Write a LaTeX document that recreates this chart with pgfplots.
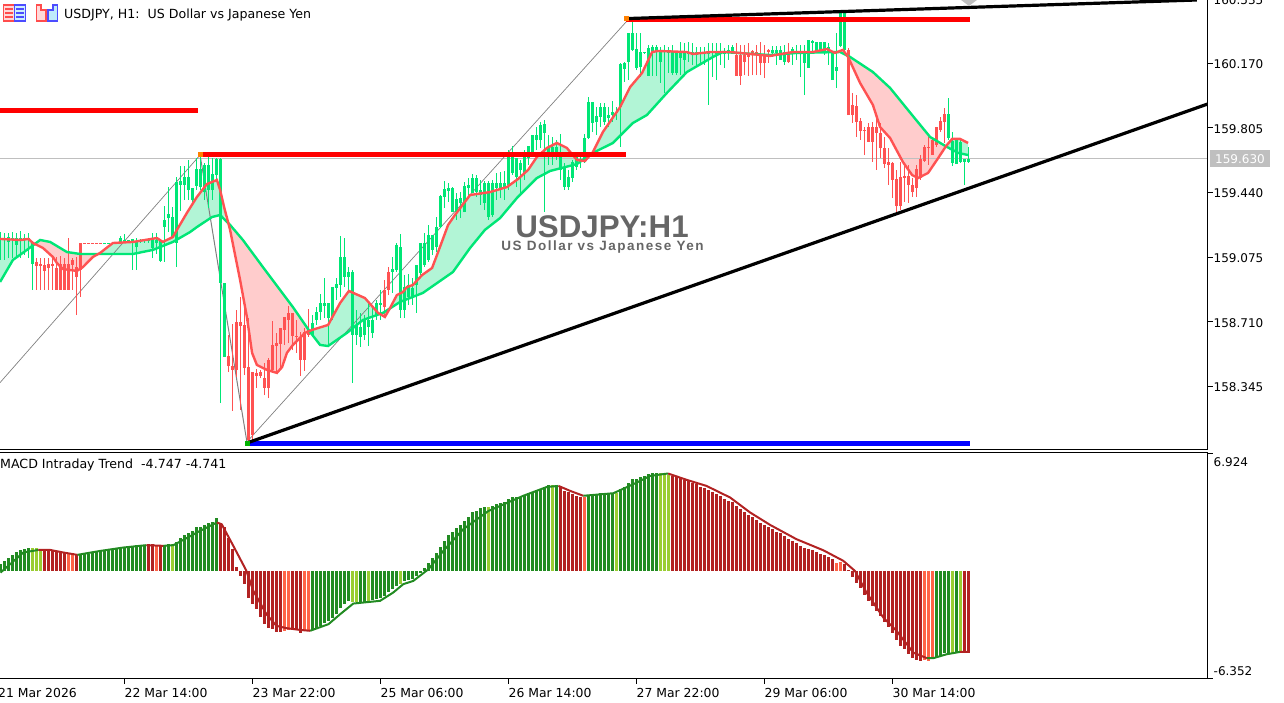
\documentclass[border=0pt]{standalone}
\usepackage{pgfplots}
\usepackage{pgfplotstable}
\usepackage{fontspec}
\pgfplotsset{compat=1.18}
\setmainfont{DejaVu Sans}
\newfontfamily\lib{Liberation Sans}
\newfontfamily\libsp[LetterSpace=11]{Liberation Sans}
\definecolor{upc}{HTML}{00E676}
\definecolor{dnc}{HTML}{FF5252}
\definecolor{upf}{HTML}{B2F5D6}
\definecolor{dnf}{HTML}{FFCCCC}
\definecolor{mg}{HTML}{228B22}
\definecolor{my}{HTML}{9ACD32}
\definecolor{mr}{HTML}{B22222}
\definecolor{mo}{HTML}{FF6347}
\definecolor{lbl}{HTML}{666666}
\pgfplotstableread{
x l b t h
0 159.059 159.172 159.183 159.217
1 159.059 159.172 159.183 159.211
2 159.070 159.161 159.189 159.211
3 159.070 159.172 159.183 159.217
4 159.070 159.144 159.183 159.211
5 159.070 159.166 159.183 159.223
6 159.087 159.172 159.183 159.206
7 159.070 159.172 159.183 159.211
8 158.890 159.036 159.155 159.161
26 159.153 159.153 159.157 159.157
27 159.153 159.153 159.157 159.157
28 159.153 159.153 159.157 159.157
29 159.153 159.153 159.157 159.157
30 159.155 159.155 159.183 159.195
31 159.155 159.155 159.172 159.206
32 159.155 159.161 159.172 159.172
33 159.003 159.166 159.178 159.178
34 159.003 159.132 159.161 159.183
35 159.155 159.166 159.172 159.178
36 159.155 159.166 159.172 159.178
37 159.155 159.166 159.172 159.178
38 159.070 159.127 159.172 159.211
39 159.093 159.155 159.172 159.211
40 159.048 159.053 159.172 159.172
41 159.048 159.245 159.285 159.364
42 159.217 159.296 159.319 159.471
43 159.183 159.189 159.302 159.358
44 159.019 159.155 159.500 159.528
45 159.336 159.483 159.505 159.590
46 159.398 159.483 159.528 159.590
47 159.398 159.455 159.528 159.624
48 159.381 159.398 159.466 159.466
49 159.455 159.477 159.573 159.635
50 159.455 159.471 159.573 159.641
51 159.398 159.443 159.596 159.607
52 159.353 159.455 159.596 159.641
53 159.398 159.455 159.545 159.635
54 159.511 159.539 159.630 159.635
55 158.251 158.929 159.630 159.635
56 158.511 158.511 158.929 158.929
78 158.624 158.635 158.703 158.748
79 158.692 158.720 158.765 158.793
80 158.720 158.765 158.816 158.867
81 158.731 158.799 158.816 158.957
82 158.579 158.731 158.816 158.816
83 158.720 158.737 158.906 158.906
84 158.833 158.901 158.923 158.957
85 158.850 158.918 159.076 159.195
86 158.906 158.963 159.076 159.183
87 158.890 158.963 158.991 159.019
88 158.364 158.635 158.991 159.003
89 158.579 158.635 158.692 158.777
90 158.567 158.624 158.680 158.760
91 158.607 158.635 158.720 158.748
92 158.573 158.680 158.720 158.816
93 158.618 158.647 158.720 158.788
94 158.720 158.748 158.816 158.833
95 158.720 158.805 158.816 158.890
98 158.873 158.991 159.008 159.076
99 158.991 159.003 159.144 159.155
100 158.731 158.777 159.132 159.206
101 158.731 158.777 158.906 158.974
102 158.805 158.850 158.918 158.980
103 158.805 158.850 158.901 158.957
104 158.760 158.918 159.031 159.031
105 158.974 158.986 159.155 159.155
106 159.019 159.031 159.155 159.211
107 159.048 159.059 159.200 159.257
108 159.087 159.116 159.200 159.200
109 159.104 159.132 159.245 159.302
110 159.240 159.245 159.421 159.426
111 159.353 159.415 159.460 159.505
112 159.387 159.449 159.466 159.494
113 159.330 159.330 159.466 159.471
114 159.285 159.330 159.404 159.438
115 159.296 159.381 159.409 159.443
116 159.330 159.330 159.477 159.500
117 159.409 159.466 159.483 159.522
118 159.438 159.438 159.522 159.545
119 159.415 159.443 159.522 159.539
120 159.370 159.426 159.455 159.511
121 159.342 159.381 159.494 159.505
122 159.285 159.302 159.494 159.505
123 159.302 159.313 159.494 159.511
124 159.398 159.466 159.494 159.551
125 159.409 159.466 159.494 159.556
126 159.398 159.466 159.494 159.562
127 159.455 159.483 159.641 159.680
128 159.539 159.551 159.641 159.703
129 159.471 159.528 159.635 159.635
130 159.426 159.568 159.607 159.624
131 159.511 159.551 159.641 159.680
132 159.596 159.635 159.703 159.703
133 159.652 159.669 159.765 159.765
134 159.680 159.737 159.765 159.810
135 159.692 159.737 159.822 159.839
136 159.330 159.777 159.827 159.850
137 159.596 159.669 159.698 159.765
138 159.596 159.641 159.698 159.754
139 159.624 159.641 159.698 159.737
140 159.511 159.568 159.641 159.771
141 159.455 159.471 159.579 159.607
142 159.455 159.471 159.528 159.568
143 159.500 159.522 159.613 159.624
144 159.568 159.584 159.641 159.664
145 159.579 159.613 159.630 159.641
146 159.607 159.624 159.748 159.771
147 159.743 159.748 159.952 159.980
148 159.782 159.833 159.952 159.952
149 159.765 159.839 159.873 159.923
150 159.810 159.867 159.923 159.946
151 159.822 159.839 159.923 159.946
152 159.810 159.861 159.878 159.923
153 159.839 159.878 159.895 159.957
154 159.850 159.890 159.895 159.923
155 159.698 159.923 160.166 160.172
156 160.065 160.138 160.172 160.178
157 160.076 160.178 160.342 160.342
158 160.240 160.246 160.342 160.415
159 160.132 160.144 160.251 160.342
160 160.093 160.149 160.234 160.342
161 160.223 160.229 160.234 160.234
162 160.099 160.099 160.257 160.274
163 160.099 160.234 160.262 160.274
164 160.099 160.234 160.262 160.274
165 160.059 160.178 160.234 160.262
166 160.003 160.234 160.246 160.274
167 160.116 160.229 160.234 160.262
168 160.104 160.116 160.234 160.274
169 160.104 160.116 160.234 160.234
170 160.104 160.200 160.234 160.291
171 160.116 160.189 160.234 160.285
172 160.178 160.223 160.234 160.291
173 160.161 160.217 160.234 160.285
174 160.161 160.217 160.234 160.262
175 160.161 160.223 160.234 160.262
176 160.161 160.223 160.234 160.262
177 159.935 160.223 160.234 160.285
178 160.093 160.229 160.240 160.285
179 160.076 160.223 160.234 160.285
180 160.161 160.229 160.240 160.285
181 160.144 160.223 160.234 160.257
182 160.189 160.229 160.246 160.274
183 160.223 160.229 160.262 160.274
193 160.206 160.229 160.246 160.268
194 160.161 160.229 160.246 160.268
195 160.189 160.189 160.246 160.268
196 160.161 160.178 160.234 160.274
198 160.161 160.234 160.251 160.262
199 160.189 160.223 160.234 160.274
200 160.093 160.223 160.234 160.274
201 159.991 160.172 160.234 160.274
202 160.144 160.144 160.302 160.302
203 160.234 160.285 160.296 160.302
204 160.229 160.234 160.291 160.291
205 160.229 160.234 160.291 160.291
206 160.217 160.234 160.291 160.291
207 160.161 160.234 160.262 160.285
208 160.076 160.076 160.234 160.234
209 160.031 160.127 160.149 160.342
210 160.262 160.268 160.455 160.455
211 160.217 160.246 160.455 160.455
237 159.737 159.748 159.884 159.974
238 159.590 159.607 159.731 159.782
239 159.601 159.601 159.737 159.748
240 159.607 159.613 159.726 159.748
241 159.483 159.613 159.630 159.630
242 159.607 159.613 159.630 159.698
}\upcandles
\pgfplotstableread{
x l b t h
9 158.890 159.025 159.048 159.070
10 158.890 159.025 159.036 159.070
11 158.890 158.997 159.031 159.070
12 158.890 159.014 159.036 159.070
13 158.890 159.025 159.036 159.082
14 158.890 158.890 159.014 159.076
15 158.890 158.890 159.036 159.082
16 158.890 158.890 159.036 159.070
17 158.890 158.890 159.036 159.183
18 158.890 159.031 159.059 159.070
19 158.748 158.963 159.019 159.076
20 158.850 159.003 159.155 159.155
21 159.153 159.153 159.157 159.157
22 159.153 159.153 159.157 159.157
23 159.153 159.153 159.157 159.157
24 159.153 159.153 159.157 159.157
25 159.153 159.153 159.157 159.157
57 158.426 158.460 158.517 158.635
58 158.206 158.438 158.460 158.697
59 158.398 158.438 158.709 158.777
60 158.212 158.686 158.709 158.850
61 158.409 158.449 158.692 158.793
62 158.031 158.042 158.454 158.731
63 158.042 158.070 158.426 158.426
64 158.336 158.404 158.421 158.443
65 158.392 158.404 158.426 158.438
66 158.296 158.336 158.392 158.477
67 158.279 158.336 158.494 158.505
68 158.432 158.438 158.579 158.714
69 158.426 158.573 158.590 158.647
70 158.438 158.584 158.675 158.675
71 158.579 158.664 158.737 158.737
72 158.590 158.720 158.760 158.799
73 158.550 158.630 158.760 158.760
74 158.534 158.624 158.630 158.720
75 158.404 158.494 158.624 158.652
76 158.432 158.494 158.652 158.675
77 158.624 158.635 158.664 158.782
96 158.731 158.793 158.890 158.946
97 158.861 158.890 158.991 159.019
184 160.099 160.099 160.217 160.285
185 160.048 160.099 160.217 160.274
186 160.104 160.178 160.217 160.274
187 160.099 160.206 160.217 160.285
188 160.104 160.229 160.240 160.246
189 160.104 160.217 160.234 160.274
190 160.104 160.172 160.217 160.291
191 160.087 160.172 160.217 160.274
192 160.172 160.234 160.246 160.251
197 160.172 160.178 160.234 160.285
212 159.878 159.878 160.246 160.257
213 159.833 159.878 159.935 160.003
214 159.754 159.839 159.929 159.991
215 159.737 159.788 159.844 159.861
216 159.652 159.788 159.794 159.810
217 159.726 159.726 159.810 159.833
218 159.613 159.726 159.810 159.839
219 159.568 159.777 159.810 159.861
220 159.635 159.692 159.777 159.833
221 159.579 159.601 159.692 159.754
222 159.483 159.596 159.613 159.692
223 159.409 159.511 159.607 159.613
224 159.330 159.364 159.517 159.568
225 159.342 159.364 159.528 159.613
226 159.387 159.522 159.534 159.607
227 159.381 159.483 159.534 159.596
228 159.415 159.443 159.483 159.522
229 159.415 159.466 159.573 159.596
230 159.511 159.522 159.630 159.652
231 159.613 159.618 159.698 159.709
232 159.596 159.692 159.698 159.754
233 159.652 159.652 159.737 159.748
234 159.698 159.709 159.810 159.810
235 159.782 159.794 159.844 159.867
236 159.720 159.839 159.884 159.918
}\downcandles
\pgfplotstableread{
x y
-0.1 159.178
5 159.172
7 159.178
8.1 159.155
10.6 159.127
13.1 159.076
14.1 159.042
15.6 159.008
19.1 158.997
20.6 159.019
23.1 159.076
24.9 159.099
28.1 159.155
33.1 159.161
39.1 159.183
40.6 159.161
43.1 159.189
44.1 159.229
46.6 159.325
49.1 159.415
51.6 159.488
54.1 159.511
54.9 159.455
55.9 159.358
57.4 159.229
59.9 158.946
61.6 158.737
62.9 158.534
64.1 158.466
66.6 158.438
69.1 158.421
70.4 158.454
71.6 158.534
73.1 158.579
76.1 158.647
77.9 158.664
81.9 158.692
84.9 158.816
87.1 158.884
91.1 158.844
94.4 158.760
96.1 158.737
97.4 158.788
99.1 158.861
100.6 158.878
101.6 158.906
103.1 158.918
105.4 158.974
107.9 159.014
109.4 159.104
111.9 159.257
113.6 159.313
117.4 159.426
122.4 159.443
126.6 159.471
129.4 159.517
131.9 159.568
134.1 159.641
136.6 159.692
139.1 159.720
141.6 159.692
144.1 159.624
146.1 159.618
148.1 159.669
150.6 159.782
154.9 159.923
157.4 160.036
160.4 160.116
162.9 160.234
164.4 160.240
171.6 160.234
173.1 160.223
177.4 160.234
182.4 160.234
192.4 160.212
198.1 160.234
203.1 160.234
206.6 160.251
208.6 160.229
210.6 160.246
211.9 160.206
214.9 160.059
218.1 159.935
219.9 159.810
222.4 159.748
225.6 159.613
227.9 159.539
229.4 159.522
231.9 159.551
234.1 159.624
236.4 159.703
237.9 159.743
239.9 159.743
241.9 159.720
}\fastma
\pgfplotstableread{
x y
-0.1 158.935
3.1 159.059
6.6 159.116
9.9 159.172
12.4 159.161
16.6 159.104
19.9 159.093
27.4 159.093
33.1 159.093
38.1 159.116
43.1 159.161
47.4 159.217
49.1 159.245
52.9 159.302
54.9 159.313
57.4 159.257
60.6 159.172
65.6 159.019
73.1 158.793
77.4 158.652
79.9 158.579
81.9 158.573
86.6 158.647
90.6 158.720
95.6 158.760
99.9 158.822
105.6 158.873
113.1 158.991
117.4 159.127
121.1 159.229
124.9 159.296
129.1 159.409
134.1 159.522
137.4 159.562
144.1 159.601
148.1 159.664
153.1 159.720
158.1 159.833
161.6 159.878
166.6 160.003
171.6 160.121
178.1 160.206
180.6 160.234
192.4 160.217
199.1 160.229
209.9 160.234
212.4 160.206
218.1 160.121
222.4 160.031
227.9 159.878
232.4 159.754
236.6 159.698
239.4 159.664
241.9 159.652
}\slowma
\pgfplotstableread{
x v
0 0.39
1 0.59
2 0.74
3 0.94
4 1.08
5 1.22
6 1.31
7 1.33
20 0.94
21 0.98
22 1.02
23 1.08
24 1.14
25 1.18
26 1.23
27 1.27
28 1.29
29 1.33
30 1.37
31 1.41
32 1.45
33 1.49
34 1.51
35 1.53
36 1.53
41 1.53
42 1.55
44 1.72
45 1.96
46 2.12
47 2.25
48 2.35
49 2.55
50 2.59
51 2.70
52 2.84
53 2.90
54 3.10
78 -3.49
79 -3.33
80 -3.23
81 -3.04
82 -2.94
83 -2.78
84 -2.55
85 -2.16
86 -1.96
87 -1.76
90 -1.82
91 -1.80
93 -1.72
94 -1.67
95 -1.61
96 -1.47
97 -1.27
98 -1.08
99 -0.88
101 -0.59
102 -0.55
103 -0.49
104 -0.29
105 -0.10
106 0.16
107 0.49
108 0.74
109 1.04
110 1.41
111 1.76
112 2.12
113 2.29
114 2.51
115 2.70
116 2.94
117 3.18
118 3.43
119 3.53
120 3.67
121 3.76
123 3.82
124 3.92
125 3.98
126 4.02
127 4.21
128 4.31
129 4.35
130 4.35
131 4.45
132 4.51
133 4.61
134 4.70
135 4.80
136 4.94
137 5.06
139 5.00
147 4.45
148 4.47
149 4.51
150 4.55
151 4.55
152 4.55
153 4.55
155 4.80
156 4.90
157 5.19
158 5.39
159 5.39
160 5.49
161 5.59
162 5.68
163 5.72
164 5.72
234 -5.14
235 -5.00
236 -4.84
237 -4.84
239 -4.80
}\histg
\pgfplotstableread{
x v
8 1.33
9 1.33
10 1.29
43 1.57
88 -1.80
89 -1.82
92 -1.76
100 -0.78
122 3.76
138 5.06
154 4.55
165 5.72
166 5.72
167 5.64
238 -4.80
240 -4.76
}\histy
\pgfplotstableread{
x v
11 1.27
12 1.27
13 1.25
14 1.18
15 1.14
16 1.04
19 0.92
37 1.57
38 1.57
40 1.47
55 2.84
56 2.55
57 1.96
58 1.27
59 0.20
60 -0.29
61 -0.78
62 -1.57
63 -1.96
64 -2.25
65 -2.70
66 -3.14
67 -3.33
68 -3.43
69 -3.57
70 -3.57
73 -3.49
74 -3.49
75 -3.63
140 4.90
141 4.70
142 4.61
143 4.51
144 4.41
145 4.35
168 5.59
169 5.49
170 5.45
171 5.33
172 5.25
173 5.19
174 5.10
175 4.94
176 4.86
177 4.74
178 4.61
179 4.51
180 4.41
181 4.25
182 4.12
183 4.02
184 3.82
185 3.63
186 3.43
187 3.29
188 3.18
189 2.98
190 2.84
191 2.70
192 2.55
193 2.45
194 2.31
195 2.20
196 2.06
197 1.86
198 1.76
199 1.61
200 1.47
201 1.33
202 1.27
203 1.22
204 1.12
205 1.02
206 0.94
207 0.82
208 0.69
211 0.43
212 0.04
213 -0.35
214 -0.69
215 -1.02
216 -1.41
217 -1.76
218 -2.06
219 -2.35
220 -2.65
221 -2.98
222 -3.27
223 -3.63
224 -4.08
225 -4.41
226 -4.61
227 -4.86
228 -5.14
229 -5.25
230 -5.29
241 -4.76
242 -4.84
}\histr
\pgfplotstableread{
x v
17 0.98
18 0.98
39 1.53
71 -3.53
72 -3.49
76 -3.53
77 -3.53
146 4.31
209 0.49
210 0.53
231 -5.25
232 -5.29
233 -5.19
}\histo
\newcommand{\uifont}{\fontsize{12}{14}\selectfont}
\newcommand{\hdfont}{\fontsize{12.6}{14}\selectfont}
\newcommand{\dtfont}{\fontsize{12.4}{14}\selectfont}
\begin{document}
\begin{tikzpicture}
\path[use as bounding box] (0pt,0pt) rectangle (1284pt,703pt);
\begin{axis}[
  at={(0pt,253pt)}, anchor=south west, scale only axis,
  width=1207.5pt, height=451.24pt,
  xmin=-0.125, xmax=301.75, ymin=157.9855, ymax=160.535,
  axis x line=bottom, axis y line=right,
  axis line style={-,line width=1pt,black},
  xtick=\empty,
  ytick={158.345,158.710,159.075,159.440,159.805,160.170,160.535},
  yticklabels={158.345,158.710,159.075,159.440,159.805,160.170,160.535},
  major tick style={black,line width=1pt},
  tick align=outside, major tick length=5pt,
  tick label style={font=\uifont},
  yticklabel style={anchor=west,inner xsep=0pt,xshift=1pt,yshift=-1pt},
]
% bands between the two averages
\addplot[fill=upf,draw=none] coordinates {(-0.1,159.178)(5,159.172)(7,159.178)(8.1,159.155)(8.6,159.15)(6.6,159.116)(3.1,159.059)(-0.1,158.935)} --cycle;
\addplot[fill=dnf,draw=none] coordinates {(8.6,159.15)(10.6,159.127)(13.1,159.076)(14.1,159.042)(15.6,159.008)(19.1,158.997)(20.6,159.019)(23.1,159.076)(24.6,159.093)(19.9,159.093)(16.6,159.104)(12.4,159.161)(9.9,159.172)} --cycle;
\addplot[fill=upf,draw=none] coordinates {(24.6,159.093)(28.1,159.155)(33.1,159.161)(39.1,159.183)(40.6,159.161)(43.1,159.189)(44.1,159.229)(46.6,159.325)(49.1,159.415)(51.6,159.488)(54.1,159.511)(54.9,159.455)(55.9,159.358)(56.6,159.30)(54.9,159.313)(52.9,159.302)(49.1,159.245)(47.4,159.217)(43.1,159.161)(38.1,159.116)(33.1,159.093)(27.4,159.093)} --cycle;
\addplot[fill=dnf,draw=none] coordinates {(56.6,159.30)(57.4,159.229)(59.9,158.946)(61.6,158.737)(62.9,158.534)(64.1,158.466)(66.6,158.438)(69.1,158.421)(70.4,158.454)(71.6,158.534)(73.1,158.579)(76.1,158.647)(77.3,158.66)(73.1,158.793)(65.6,159.019)(60.6,159.172)(57.4,159.257)} --cycle;
\addplot[fill=upf,draw=none] coordinates {(77.3,158.66)(77.9,158.664)(81.9,158.692)(84.9,158.816)(87.1,158.884)(91.1,158.844)(94.4,158.76)(90.6,158.72)(86.6,158.647)(81.9,158.573)(79.9,158.579)} --cycle;
\addplot[fill=dnf,draw=none] coordinates {(94.4,158.76)(96.1,158.737)(97.4,158.788)(98,158.79)(95.6,158.76)} --cycle;
\addplot[fill=upf,draw=none] coordinates {(98,158.79)(99.1,158.861)(100.6,158.878)(101.6,158.906)(103.1,158.918)(105.4,158.974)(107.9,159.014)(109.4,159.104)(111.9,159.257)(113.6,159.313)(117.4,159.426)(122.4,159.443)(126.6,159.471)(129.4,159.517)(131.9,159.568)(134.1,159.641)(136.6,159.692)(139.1,159.720)(141.6,159.692)(144.1,159.624)(146.1,159.618)(148.1,159.669)(150.6,159.782)(154.9,159.923)(157.4,160.036)(160.4,160.116)(162.9,160.234)(164.4,160.240)(171.6,160.234)(177.4,160.234)(180.6,160.234)(178.1,160.206)(171.6,160.121)(166.6,160.003)(161.6,159.878)(158.1,159.833)(153.1,159.720)(148.1,159.664)(144.1,159.601)(137.4,159.562)(134.1,159.522)(129.1,159.409)(124.9,159.296)(121.1,159.229)(117.4,159.127)(113.1,158.991)(105.6,158.873)(99.9,158.822)} --cycle;
\addplot[fill=dnf,draw=none] coordinates {(212.1,160.206)(214.9,160.059)(218.1,159.935)(219.9,159.810)(222.4,159.748)(225.6,159.613)(227.9,159.539)(229.4,159.522)(231.9,159.551)(234.1,159.624)(236.4,159.703)(232.4,159.754)(227.9,159.878)(222.4,160.031)(218.1,160.121)} --cycle;
\addplot[fill=upf,draw=none] coordinates {(236.4,159.703)(237.9,159.743)(239.9,159.743)(241.9,159.720)(241.9,159.652)(239.4,159.664)} --cycle;
% current price line
\addplot[color=black!25,line width=1pt] coordinates {(-0.125,159.630)(301.75,159.630)};
% zigzag
\addplot[color=black!50,line width=0.7pt] coordinates {(-0.125,158.366)(49.9,159.652)};
\addplot[color=black!50,line width=1pt] coordinates {(49.9,159.652)(61.6,158.031)};
\addplot[color=black!50,line width=0.7pt] coordinates {(61.6,158.031)(156.6,160.409)};
% candles
\addplot[draw=none,mark=none,error bars/.cd,y dir=plus,y explicit,error mark=none,error bar style={line width=1.2pt,color=upc}]
  table[x=x,y=l,y error plus expr=\thisrow{h}-\thisrow{l}] {\upcandles};
\addplot[draw=none,mark=none,error bars/.cd,y dir=plus,y explicit,error mark=none,error bar style={line width=3.1pt,color=upc}]
  table[x=x,y=b,y error plus expr=\thisrow{t}-\thisrow{b}] {\upcandles};
\addplot[draw=none,mark=none,error bars/.cd,y dir=plus,y explicit,error mark=none,error bar style={line width=1.2pt,color=dnc}]
  table[x=x,y=l,y error plus expr=\thisrow{h}-\thisrow{l}] {\downcandles};
\addplot[draw=none,mark=none,error bars/.cd,y dir=plus,y explicit,error mark=none,error bar style={line width=3.1pt,color=dnc}]
  table[x=x,y=b,y error plus expr=\thisrow{t}-\thisrow{b}] {\downcandles};
% moving averages
\addplot[color=upc,line width=2.4pt] table[x=x,y=y] {\slowma};
\addplot[color=dnc,line width=2.4pt] table[x=x,y=y] {\fastma};
% levels
\addplot[color=red,line width=5pt] coordinates {(-0.125,159.904)(49.5,159.904)};
\addplot[color=red,line width=5pt] coordinates {(49.5,159.655)(156.5,159.655)};
\addplot[color=red,line width=5pt] coordinates {(156.5,160.418)(242.5,160.418)};
\addplot[color=blue,line width=5pt] coordinates {(61.6,158.023)(242.5,158.023)};
\addplot[color=black,line width=3.2pt] coordinates {(61.6,158.025)(301.75,159.940)};
\addplot[color=black,line width=3.2pt] coordinates {(156.6,160.423)(299.1,160.528)};
\addplot[only marks,mark=square*,mark size=2pt,color=orange] coordinates {(49.9,159.655)(156.5,160.423)};
\addplot[only marks,mark=square*,mark size=2pt,color=green!70!black] coordinates {(61.6,158.025)};
\end{axis}
\begin{axis}[
  at={(0pt,24pt)}, anchor=south west, scale only axis,
  width=1207.5pt, height=226pt,
  xmin=-0.125, xmax=301.75, ymin=-6.352, ymax=6.924,
  axis x line=bottom, axis y line=right,
  axis line style={-,line width=1pt,black},
  xtick={31,63,95,127,159,191,223},
  xticklabels={22 Mar 14:00,23 Mar 22:00,25 Mar 06:00,26 Mar 14:00,27 Mar 22:00,29 Mar 06:00,30 Mar 14:00},
  ytick={-6.352,6.924},
  yticklabels={\smash{\raisebox{3pt}{-6.352}},\smash{\raisebox{-13.4pt}{6.924}}},
  major tick style={black,line width=1pt},
  tick align=outside, major tick length=5pt,
  tick label style={font=\uifont},
  yticklabel style={anchor=west,inner xsep=0pt,xshift=1pt},
  xticklabel style={anchor=north west,inner xsep=0pt,yshift=-1pt,font=\dtfont},
  unbounded coords=jump,
]
\addplot[ycomb,color=mg,line width=3.1pt,mark=none] table[x=x,y=v] {\histg};
\addplot[ycomb,color=my,line width=3.1pt,mark=none] table[x=x,y=v] {\histy};
\addplot[ycomb,color=mr,line width=3.1pt,mark=none] table[x=x,y=v] {\histr};
\addplot[ycomb,color=mo,line width=3.1pt,mark=none] table[x=x,y=v] {\histo};
\addplot[color=mg,line width=2pt] coordinates {
(0,-0.10)(2.4,0.39)(5.7,1.08)(9.5,1.23)(9.5,nan)
(19.2,0.94)(24.9,1.17)(30.7,1.37)(36.5,1.51)(36.5,nan)
(40.7,1.47)(43.2,1.51)(46.5,1.92)(49.9,2.35)(54.1,2.84)(54.1,nan)
(77.4,-3.52)(82,-3.13)(84.9,-2.55)(88.2,-1.92)(94.9,-1.76)(98.2,-1.27)(100.7,-0.78)(103.2,-0.59)(107,0.10)(110.7,1.17)(115.7,2.45)(122,3.52)(130.7,4.41)(136.6,4.93)(139.5,4.99)(139.5,nan)
(145.7,4.41)(153.2,4.56)(158.2,5.09)(162.4,5.58)(166.9,5.72)(166.9,nan)
(231.6,-5.13)(233.2,-5.13)(236.5,-4.90)(239.9,-4.76)};
\addplot[color=mr,line width=2pt] coordinates {
(9.5,1.23)(12.4,1.23)(15.7,1.08)(19.2,0.94)(19.2,nan)
(36.5,1.51)(40.7,1.47)(40.7,nan)
(54.1,2.84)(55.3,2.74)(58.2,1.47)(61.4,0.04)(63.2,-1.17)(66.5,-2.55)(69,-3.23)(71.6,-3.37)(74.9,-3.47)(77.4,-3.52)(77.4,nan)
(139.5,4.99)(142.4,4.70)(145.7,4.41)(145.7,nan)
(166.9,5.72)(171.5,5.35)(176.5,4.99)(182.4,4.31)(187.4,3.43)(192.4,2.70)(199,1.86)(205.7,1.21)(210.7,0.59)(213.6,0)(216.5,-1.27)(220.7,-2.74)(224,-3.52)(228.2,-4.80)(231.6,-5.13)(231.6,nan)
(239.9,-4.76)(241.9,-4.76)};
\end{axis}
\begin{scope}[x=1pt,y=1pt]
% panel separator line
\draw[line width=1pt] (0,250.3) -- (1207.5,250.3);
% start-of-scale date label
\node[anchor=north west,inner sep=0pt,font=\dtfont] at (-2,15) {21 Mar 2026};
% current price tag
\node[fill=black!25,text=white,inner sep=0pt,minimum width=60pt,minimum height=17pt,font=\uifont] at (1240,544) {159.630};
% watermark
\node[text=lbl,font=\lib\bfseries\fontsize{31.3}{33}\selectfont,anchor=center] at (602,476) {USDJPY:H1};
\node[text=lbl,font=\libsp\bfseries\fontsize{13.5}{15}\selectfont,anchor=center] at (602.5,456) {US Dollar vs Japanese Yen};
% header
\node[anchor=west,inner sep=0pt,font=\hdfont] at (64,688) {USDJPY, H1:\ \ US Dollar vs Japanese Yen};
\node[anchor=west,inner sep=0pt,font=\hdfont] at (0,238) {MACD Intraday Trend\ \ -4.747 -4.741};
% toolbar icons
\fill[red!15,draw=red!70,line width=1.3pt] (3.5,698) rectangle (14.5,682);
\fill[cyan!20,draw=blue!70,line width=1.3pt] (14.5,698) rectangle (25.5,682);
\foreach \yy in {694,690,686}{
  \draw[red!70,line width=1.2pt] (5,\yy) -- (13,\yy);
  \draw[blue!70,line width=1.2pt] (16,\yy) -- (24,\yy);}
\fill[red!15,draw=red!70,line width=1.3pt] (36.5,698) -- (41,698) -- (41,693) -- (46,693) -- (46,682) -- (36.5,682) -- cycle;
\fill[cyan!25,draw=blue!70,line width=1.3pt] (48,693) -- (53,693) -- (53,698) -- (57.5,698) -- (57.5,682) -- (48,682) -- cycle;
\fill[black!25] (961,703) -- (977,703) -- (969,697) -- cycle;
\end{scope}
\end{tikzpicture}
\end{document}
